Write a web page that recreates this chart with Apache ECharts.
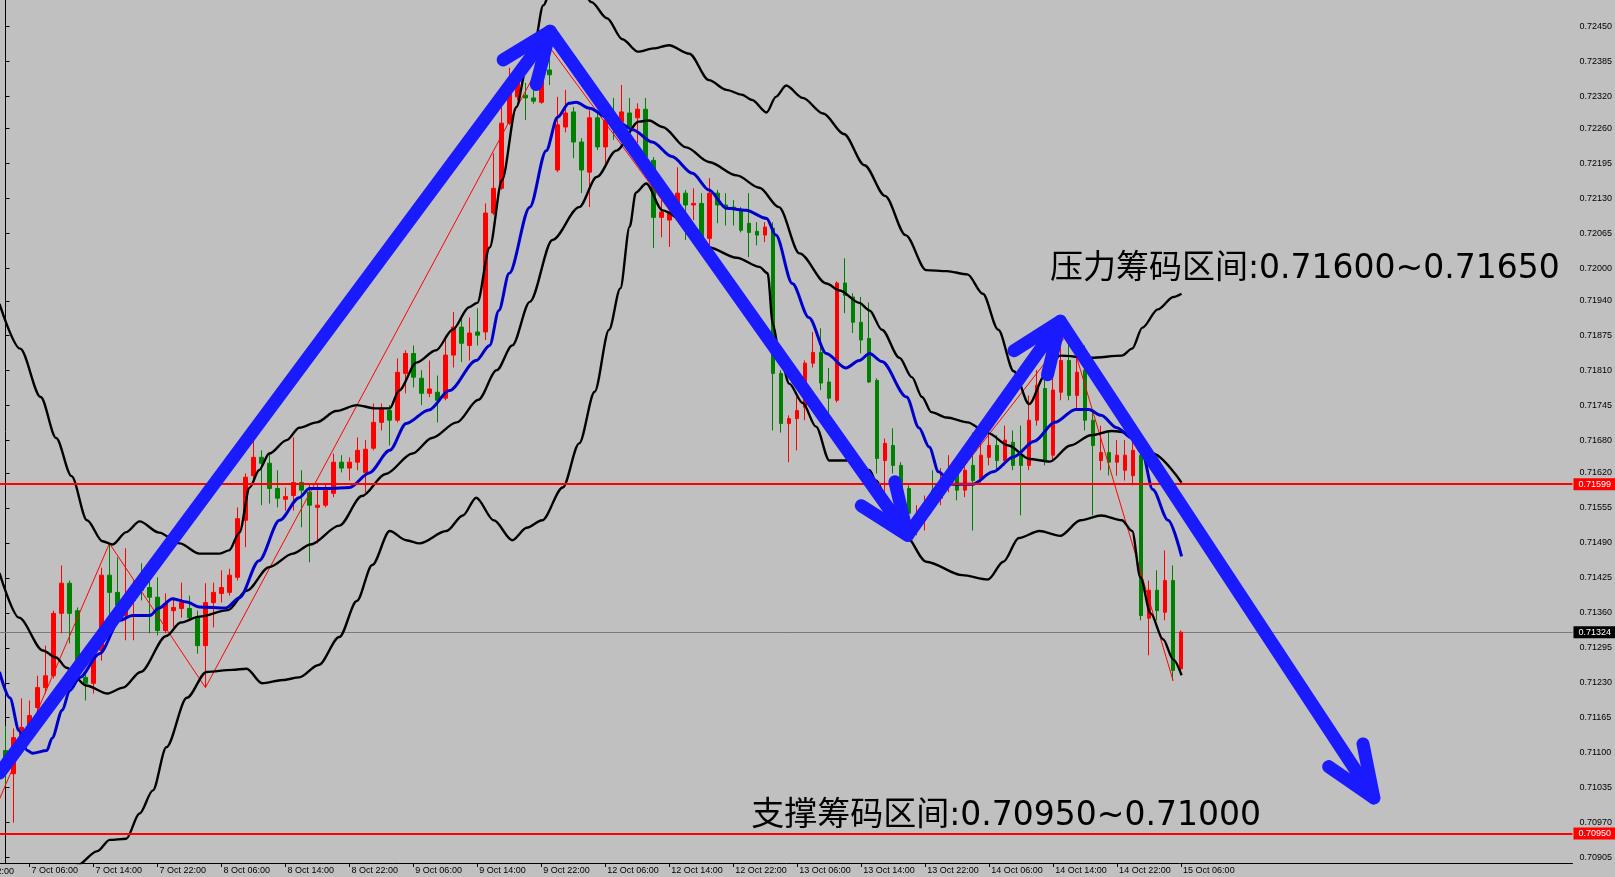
<!DOCTYPE html>
<html><head><meta charset="utf-8">
<script src="https://cdn.jsdelivr.net/npm/echarts@6/dist/echarts.min.js"></script>
<style>html,body{margin:0;padding:0;background:#c0c0c0;overflow:hidden}#c{width:1615px;height:877px}</style>
</head><body><div id="c"></div>
<script>
const timeLabels = ['7 Oct 06:00','7 Oct 14:00','7 Oct 22:00','8 Oct 06:00','8 Oct 14:00','8 Oct 22:00','9 Oct 06:00','9 Oct 14:00','9 Oct 22:00','12 Oct 06:00','12 Oct 14:00','12 Oct 22:00','13 Oct 06:00','13 Oct 14:00','13 Oct 22:00','14 Oct 06:00','14 Oct 14:00','14 Oct 22:00','15 Oct 06:00'];
const timeTickBars = [3,11,19,27,35,43,51,59,67,75,83,91,99,107,115,123,131,139,147];
const priceTicks = [0.72450,0.72385,0.72320,0.72260,0.72195,0.72130,0.72065,0.72000,0.71940,0.71875,0.71810,0.71745,0.71680,0.71620,0.71555,0.71490,0.71425,0.71360,0.71295,0.71230,0.71165,0.71100,0.71035,0.70970,0.70905];

const opens = [0.71104,0.71061,0.71123,0.71150,0.71184,0.71221,0.71243,0.71359,0.71415,0.71364,0.71240,0.71229,0.71290,0.71430,0.71398,0.71355,0.71383,0.71415,0.71407,0.71389,
0.71327,0.71364,0.71368,0.71368,0.71351,0.71299,0.71379,0.71396,0.71398,0.71426,0.71532,0.71615,0.71649,0.71638,0.71591,0.71571,0.71578,0.71602,0.71584,0.71556,
0.71560,0.71582,0.71640,0.71629,0.71640,0.71621,0.71666,0.71714,0.71736,0.71718,0.71805,0.71842,0.71796,0.71768,0.71770,0.71759,0.71839,0.71891,0.71857,0.71882,
0.71882,0.72103,0.72149,0.72270,0.72319,0.72322,0.72317,0.72309,0.72369,0.72183,0.72263,0.72291,0.72235,0.72179,0.72280,0.72226,0.72280,0.72272,0.72289,0.72280,
0.72296,0.72201,0.72095,0.72090,0.72121,0.72140,0.72118,0.72121,0.72056,0.72140,0.72118,0.72114,0.72108,0.72084,0.72069,0.72062,0.72075,0.71805,0.71712,0.71721,
0.71742,0.71824,0.71844,0.71789,0.71755,0.71973,0.71947,0.71900,0.71870,0.71792,0.71643,0.71671,0.71634,0.71591,0.71519,0.71541,0.71588,0.71573,0.71602,0.71621,
0.71588,0.71634,0.71610,0.71649,0.71671,0.71643,0.71677,0.71653,0.71634,0.71718,0.71777,0.71653,0.71770,0.71829,0.71764,0.71811,0.71718,0.71643,0.71658,0.71640,
0.71625,0.71615,0.71653,0.71350,0.71402,0.71361,0.71420,0.71256];
const closes = [0.71085,0.71128,0.71147,0.71169,0.71221,0.71243,0.71359,0.71415,0.71359,0.71258,0.71229,0.71284,0.71430,0.71398,0.71374,0.71368,0.71402,0.71402,0.71389,0.71327,
0.71377,0.71370,0.71379,0.71351,0.71299,0.71379,0.71398,0.71407,0.71430,0.71535,0.71612,0.71649,0.71638,0.71591,0.71573,0.71576,0.71602,0.71588,0.71560,0.71560,
0.71588,0.71640,0.71629,0.71640,0.71662,0.71664,0.71714,0.71740,0.71718,0.71807,0.71842,0.71798,0.71768,0.71776,0.71755,0.71839,0.71891,0.71861,0.71880,0.71876,
0.72103,0.72149,0.72270,0.72326,0.72350,0.72317,0.72311,0.72363,0.72360,0.72267,0.72289,0.72235,0.72183,0.72280,0.72226,0.72276,0.72267,0.72291,0.72263,0.72296,
0.72207,0.72095,0.72105,0.72105,0.72140,0.72118,0.72121,0.72058,0.72140,0.72118,0.72114,0.72110,0.72071,0.72067,0.72062,0.72077,0.71805,0.71712,0.71721,0.71736,
0.71824,0.71844,0.71787,0.71759,0.71973,0.71950,0.71900,0.71867,0.71789,0.71647,0.71675,0.71634,0.71588,0.71545,0.71541,0.71563,0.71573,0.71606,0.71625,0.71588,
0.71625,0.71606,0.71653,0.71671,0.71643,0.71681,0.71634,0.71634,0.71718,0.71783,0.71643,0.71774,0.71829,0.71764,0.71807,0.71718,0.71671,0.71658,0.71640,0.71653,
0.71653,0.71662,0.71355,0.71402,0.71364,0.71420,0.71253,0.71324];
const lows = [0.71039,0.70970,0.71110,0.71145,0.71175,0.71210,0.71238,0.71322,0.71303,0.71247,0.71197,0.71210,0.71271,0.71340,0.71346,0.71309,0.71309,0.71383,0.71322,0.71318,
0.71322,0.71333,0.71351,0.71346,0.71284,0.71221,0.71333,0.71379,0.71392,0.71420,0.71482,0.71606,0.71560,0.71563,0.71556,0.71550,0.71550,0.71519,0.71454,0.71489,
0.71556,0.71575,0.71621,0.71606,0.71625,0.71584,0.71662,0.71699,0.71671,0.71714,0.71768,0.71779,0.71746,0.71761,0.71714,0.71755,0.71816,0.71826,0.71829,0.71857,
0.71867,0.72099,0.72146,0.72267,0.72313,0.72276,0.72306,0.72306,0.72341,0.72179,0.72253,0.72205,0.72140,0.72114,0.72220,0.72196,0.72239,0.72267,0.72257,0.72233,
0.72201,0.72038,0.72058,0.72040,0.72103,0.72053,0.72090,0.72053,0.72043,0.72084,0.72080,0.72080,0.72067,0.72021,0.72043,0.72049,0.71699,0.71695,0.71640,0.71662,
0.71718,0.71816,0.71774,0.71731,0.71751,0.71917,0.71880,0.71842,0.71787,0.71619,0.71582,0.71619,0.71578,0.71502,0.71504,0.71513,0.71560,0.71560,0.71584,0.71569,
0.71575,0.71513,0.71602,0.71634,0.71625,0.71634,0.71625,0.71541,0.71625,0.71708,0.71634,0.71643,0.71755,0.71755,0.71736,0.71699,0.71541,0.71625,0.71615,0.71615,
0.71606,0.71597,0.71346,0.71281,0.71346,0.71346,0.71234,0.71249];
const highs = [0.71150,0.71145,0.71201,0.71197,0.71243,0.71299,0.71364,0.71448,0.71420,0.71370,0.71249,0.71309,0.71444,0.71489,0.71463,0.71480,0.71420,0.71452,0.71426,0.71426,
0.71396,0.71389,0.71416,0.71392,0.71364,0.71415,0.71416,0.71439,0.71442,0.71556,0.71619,0.71681,0.71662,0.71658,0.71625,0.71593,0.71686,0.71625,0.71601,0.71601,
0.71601,0.71656,0.71653,0.71649,0.71686,0.71681,0.71749,0.71749,0.71746,0.71833,0.71848,0.71857,0.71811,0.71829,0.71801,0.71872,0.71919,0.71909,0.71909,0.71926,
0.72121,0.72214,0.72304,0.72373,0.72369,0.72345,0.72335,0.72374,0.72412,0.72319,0.72332,0.72300,0.72242,0.72294,0.72294,0.72285,0.72317,0.72341,0.72317,0.72307,
0.72317,0.72207,0.72127,0.72114,0.72188,0.72146,0.72149,0.72140,0.72168,0.72146,0.72140,0.72127,0.72114,0.72140,0.72086,0.72086,0.72086,0.71811,0.71727,0.71761,
0.71829,0.71882,0.71889,0.71815,0.71976,0.72019,0.71954,0.71947,0.71937,0.71796,0.71684,0.71703,0.71640,0.71597,0.71560,0.71578,0.71625,0.71629,0.71653,0.71643,
0.71643,0.71695,0.71681,0.71699,0.71690,0.71708,0.71699,0.71708,0.71764,0.71811,0.71801,0.71811,0.71857,0.71882,0.71839,0.71857,0.71736,0.71708,0.71695,0.71681,
0.71681,0.71681,0.71662,0.71420,0.71439,0.71476,0.71448,0.71327];

const upperBand = [[-0.75,0.71934],[1.83,0.71851],[4.40,0.71761],[6.33,0.71685],[8.26,0.71614],[10.19,0.71532],[12.13,0.71493],[13.41,0.71487],[15.09,0.71510],[16.76,0.71530],[19.21,0.71509],[21.78,0.71489],[24.23,0.71470],[26.80,0.71470],[27.96,0.71476],[29.25,0.71509],[30.54,0.71593],[31.70,0.71625],[32.98,0.71656],[35.17,0.71681],[36.72,0.71704],[38.90,0.71714],[41.35,0.71735],[43.93,0.71746],[46.24,0.71740],[48.05,0.71740],[49.20,0.71773],[51.39,0.71825],[53.84,0.71848],[55.90,0.71886],[57.96,0.71928],[58.99,0.71936],[60.54,0.72039],[62.08,0.72164],[63.88,0.72300],[65.17,0.72375],[66.20,0.72422],[67.23,0.72489],[68.78,0.72547],[71.09,0.72556],[73.28,0.72495],[75.21,0.72465],[77.14,0.72426],[79.08,0.72403],[81.01,0.72409],[82.94,0.72415],[85.51,0.72399],[87.96,0.72350],[90.15,0.72332],[92.08,0.72323],[93.36,0.72313],[95.17,0.72290],[96.33,0.72319],[97.62,0.72340],[99.68,0.72317],[102.25,0.72288],[104.83,0.72250],[107.40,0.72192],[109.98,0.72135],[112.55,0.72062],[115.13,0.71997],[117.70,0.71995],[120.28,0.71989],[122.21,0.71953],[124.14,0.71886],[126.07,0.71809],[128.00,0.71748],[129.93,0.71800],[131.86,0.71838],[135.73,0.71834],[139.59,0.71838],[140.88,0.71851],[142.16,0.71890],[144.09,0.71924],[146.03,0.71947],[147.06,0.71953]];
const lowerBand = [[4.40,0.70813],[6.33,0.70861],[8.91,0.70890],[11.48,0.70917],[13.03,0.70938],[15.09,0.70940],[16.76,0.70987],[18.43,0.71030],[20.11,0.71110],[22.68,0.71202],[25.13,0.71250],[28.35,0.71254],[30.15,0.71256],[32.08,0.71229],[34.66,0.71235],[36.72,0.71240],[39.16,0.71263],[41.74,0.71315],[43.93,0.71382],[45.86,0.71449],[48.05,0.71512],[50.11,0.71495],[51.78,0.71489],[55.13,0.71512],[57.19,0.71541],[58.86,0.71574],[61.05,0.71532],[63.37,0.71495],[65.17,0.71518],[67.10,0.71532],[69.68,0.71593],[71.74,0.71675],[73.67,0.71771],[75.47,0.71886],[76.88,0.71963],[78.05,0.72078],[78.82,0.72141],[80.11,0.72158],[82.16,0.72108],[85.13,0.72085],[87.96,0.72039],[91.43,0.72020],[94.27,0.72003],[95.30,0.71991],[95.95,0.71897],[96.71,0.71848],[98.00,0.71786],[99.68,0.71750],[101.35,0.71706],[103.02,0.71643],[105.86,0.71643],[108.04,0.71625],[108.82,0.71606],[110.62,0.71556],[112.55,0.71503],[115.13,0.71455],[119.63,0.71430],[122.85,0.71422],[124.78,0.71455],[126.71,0.71499],[129.29,0.71512],[131.86,0.71503],[134.44,0.71532],[137.01,0.71541],[139.59,0.71532],[140.88,0.71512],[141.90,0.71426],[143.19,0.71359],[144.74,0.71311],[146.03,0.71273],[147.06,0.71244]];
const slowMA = [[-0.75,0.71434],[1.70,0.71351],[4.66,0.71290],[6.33,0.71277],[7.62,0.71258],[10.07,0.71225],[12.77,0.71210],[14.70,0.71221],[16.89,0.71250],[20.11,0.71317],[21.91,0.71342],[24.23,0.71353],[27.83,0.71365],[30.15,0.71401],[32.98,0.71445],[35.94,0.71470],[38.13,0.71487],[41.74,0.71522],[44.57,0.71577],[47.53,0.71618],[50.88,0.71656],[53.33,0.71685],[56.42,0.71714],[59.12,0.71756],[61.43,0.71811],[63.37,0.71857],[65.56,0.71938],[68.39,0.72053],[71.74,0.72114],[73.93,0.72170],[76.37,0.72219],[79.20,0.72273],[80.49,0.72275],[82.16,0.72263],[85.13,0.72225],[87.96,0.72198],[91.43,0.72173],[94.27,0.72150],[96.71,0.72114],[99.29,0.72028],[102.64,0.71972],[104.31,0.71959],[106.76,0.71936],[108.04,0.71922],[109.59,0.71886],[111.78,0.71834],[113.33,0.71798],[114.61,0.71761],[115.77,0.71733],[117.70,0.71723],[120.28,0.71714],[122.85,0.71694],[125.43,0.71671],[128.00,0.71646],[130.58,0.71641],[133.15,0.71671],[135.73,0.71690],[138.30,0.71698],[140.88,0.71694],[143.45,0.71656],[147.06,0.71602]];
const fastMA = [[-0.75,0.71250],[0.54,0.71202],[1.70,0.71141],[2.73,0.71104],[3.37,0.71099],[5.17,0.71104],[5.82,0.71127],[7.10,0.71179],[8.01,0.71215],[9.29,0.71240],[11.74,0.71284],[14.31,0.71346],[15.86,0.71355],[18.05,0.71355],[19.21,0.71369],[20.88,0.71386],[22.68,0.71380],[24.23,0.71371],[27.58,0.71369],[29.25,0.71388],[31.70,0.71457],[34.27,0.71532],[36.72,0.71574],[38.00,0.71591],[40.45,0.71591],[43.03,0.71593],[45.47,0.71620],[48.05,0.71662],[50.11,0.71712],[52.94,0.71737],[55.51,0.71773],[58.86,0.71829],[60.54,0.71857],[61.69,0.71922],[62.98,0.71991],[65.56,0.72114],[67.61,0.72219],[69.03,0.72281],[70.45,0.72307],[71.35,0.72309],[73.02,0.72298],[75.47,0.72279],[76.76,0.72271],[78.43,0.72258],[80.88,0.72235],[83.32,0.72208],[85.90,0.72177],[87.96,0.72146],[90.15,0.72112],[92.59,0.72108],[95.17,0.72093],[96.33,0.72062],[98.39,0.71972],[100.45,0.71909],[102.64,0.71842],[105.08,0.71815],[106.76,0.71829],[108.04,0.71842],[109.59,0.71827],[112.68,0.71761],[114.22,0.71704],[115.51,0.71668],[116.67,0.71622],[118.34,0.71599],[120.92,0.71599],[123.49,0.71622],[126.07,0.71650],[128.64,0.71679],[131.22,0.71714],[133.79,0.71738],[135.47,0.71738],[137.01,0.71727],[138.94,0.71704],[140.88,0.71685],[142.16,0.71656],[143.45,0.71589],[145.38,0.71532],[147.06,0.71465]];
const zigzag = [[-0.75,0.71014],[13,0.71489],[25,0.71221],[68,0.72412],[113,0.71502],[133,0.71882],[146,0.71234]];

const resistanceLine = 0.71599;
const supportLine = 0.70950;
const lastPrice = 0.71324;
const arrowPath = [[-0.75,0.71062],[68.1,0.72441],[112.8,0.71504],[131.9,0.71902],[171.1,0.71016]];
const noteTexts = ['压力筹码区间:0.71600~0.71650','支撑筹码区间:0.70950~0.71000'];
const noteAnchors = [[130.6,0.71998],[93.25,0.70982]];
const cutLabel = {text:'6 Oct 22:00', bar:-5};

const Y_MIN = 0.70895, Y_MAX = 0.72499;
const X_MIN = -0.6875, X_MAX = 195.9375;
const FONT = '"Liberation Sans", Arial, sans-serif';
const ARROW = '#1a1aff';

const candleData = opens.map((o,i)=>[i,o,closes[i],lows[i],highs[i]]);
const chart = echarts.init(document.getElementById('c'), null, {renderer:'canvas'});

function lineSeries(data, color, width, z){
  return {type:'line', data:data, showSymbol:false, symbol:'none', smooth:0.3, smoothMonotone:'x',
    lineStyle:{color:color, width:width}, z:z, silent:true, clip:true};
}
function priceMarks(levels, color, width, bg, z){
  return {type:'line', data:[], z:z, silent:true,
    markLine:{z:z, precision:5, symbol:['none','none'], silent:true, animation:false,
      lineStyle:{color:color, width:width, type:'solid'},
      label:{show:true, position:'end', formatter:function(p){return Number(p.value).toFixed(5);}, color:'#fff', backgroundColor:bg, fontSize:9, fontFamily:FONT, padding:[2,6,1,5], distance:1},
      data:levels.map(v=>({yAxis:v}))}};
}

const option = {
  backgroundColor:'#c0c0c0',
  animation:false,
  grid:{left:0,right:42,top:0,bottom:14},
  xAxis:{type:'value', min:X_MIN, max:X_MAX, splitLine:{show:false},
    axisLine:{onZero:false, lineStyle:{color:'#000',width:1}},
    axisTick:{show:true, customValues:timeTickBars, length:4, lineStyle:{color:'#000'}},
    axisLabel:{customValues:timeTickBars, formatter:function(v){const k=timeTickBars.indexOf(Math.round(v));return k>=0?timeLabels[k]:'';},
      align:'left', fontSize:9, fontFamily:FONT, color:'#000', margin:3, padding:[0,0,0,2]}},
  yAxis:{type:'value', position:'right', min:Y_MIN, max:Y_MAX, splitLine:{show:false},
    axisLine:{show:true, lineStyle:{color:'#000'}},
    axisTick:{show:true, customValues:priceTicks, length:4, lineStyle:{color:'#000'}},
    axisLabel:{customValues:priceTicks, formatter:function(v){return v.toFixed(5);}, fontSize:9, fontFamily:FONT, color:'#000', margin:7}},
  series:[
    priceMarks([lastPrice], '#7a7a7a', 1, '#000', 1),
    {type:'candlestick', data:candleData, encode:{x:0,y:[1,2,3,4]}, dimensions:['bar','open','close','lowest','highest'],
      barWidth:4, z:2, silent:true,
      itemStyle:{color:'#ff0000', color0:'#008000', borderColor:'#ff0000', borderColor0:'#008000', borderWidth:1}},
    {type:'line', data:zigzag, showSymbol:false, symbol:'none', lineStyle:{color:'#ff0000', width:1}, z:3, silent:true},
    lineSeries(upperBand,'#000',2.4,4),
    lineSeries(lowerBand,'#000',2.4,4),
    lineSeries(slowMA,'#000',2.4,4),
    lineSeries(fastMA,'#0000cc',3,5),
    priceMarks([resistanceLine, supportLine], '#ff0000', 2, '#ff0000', 6)
  ]
};
chart.setOption(option);

const toPx = p => chart.convertToPixel({gridIndex:0}, p);
const graphics = [];
const pts = arrowPath.map(toPx);
const arrowStyle = {stroke:ARROW, lineWidth:13, fill:null, lineJoin:'round', lineCap:'round'};
graphics.push({type:'polyline', shape:{points:pts}, style:arrowStyle, z:100, silent:true});
for (let k=1;k<pts.length;k++){
  const tip=pts[k], prev=pts[k-1];
  const ang=Math.atan2(prev[1]-tip[1], prev[0]-tip[0]);
  const L=55, a=22*Math.PI/180;
  const b1=[tip[0]+L*Math.cos(ang+a), tip[1]+L*Math.sin(ang+a)];
  const b2=[tip[0]+L*Math.cos(ang-a), tip[1]+L*Math.sin(ang-a)];
  graphics.push({type:'polyline', shape:{points:[b1,tip,b2]}, style:arrowStyle, z:100, silent:true});
}
noteTexts.forEach((t,k)=>{
  const p=toPx(noteAnchors[k]);
  graphics.push({type:'text', x:p[0], y:p[1], z:110, silent:true,
    style:{text:t, font:'33px "DejaVu Sans", "Noto Sans CJK SC"', fill:'#000', align:'left', verticalAlign:'middle'}});
});
const cp = toPx([cutLabel.bar, Y_MIN]);
graphics.push({type:'text', x:cp[0]+2, y:cp[1]+4, z:110, silent:true,
  style:{text:cutLabel.text, font:'9px "Liberation Sans"', fill:'#000', align:'left', verticalAlign:'top'}});
chart.setOption({graphic:graphics});
</script>
</body></html>
